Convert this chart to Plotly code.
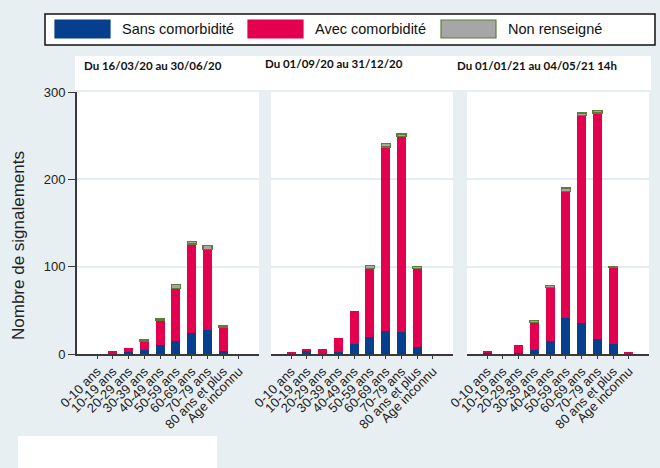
import plotly.graph_objects as go

# ---------------- data ----------------
categories = ["0-10 ans", "10-19 ans", "20-29 ans", "30-39 ans", "40-49 ans",
              "50-59 ans", "60-69 ans", "70-79 ans", "80 ans et plus", "Age inconnu"]
periods = ["Du 16/03/20 au 30/06/20", "Du 01/09/20 au 31/12/20", "Du 01/01/21 au 04/05/21 14h"]
series_names = ["Sans comorbidité", "Avec comorbidité", "Non renseigné"]

sans_p1 = [0, 1, 2, 5, 10, 15, 24, 28, 4, 0]
avec_p1 = [0, 2, 5, 10, 29, 60, 102, 92, 27, 0]
nr_p1 = [None, None, None, 1, 2, 5, 3, 4, 1.5, None]

sans_p2 = [0, 4, 0, 2, 12, 20, 26, 25, 8, 0]
avec_p2 = [2, 1, 6, 16, 37, 78, 211, 224, 90, 0]
nr_p2 = [None, None, None, None, None, 3.5, 4, 3, 2, None]

sans_p3 = [2, 0, 1, 5, 15, 41, 36, 17, 12, 0]
avec_p3 = [1, 0, 9, 31, 61, 145, 237, 259, 87, 2]
nr_p3 = [None, None, None, 2, 2, 4, 3, 3, 1.5, None]

y_ticks = [0, 100, 200, 300]

# ---------------- styling ----------------
W, H = 660, 468
BG = "#e8eff2"
BLUE = "#063f8e"
RED = "#e2004f"
GRAY = "#a6a6a6"
GREEN = "#5e7d3a"
FONT = "Liberation Sans"


def px(x):
    return x / W


def py(y):
    return 1 - y / H


panel_px = [(77, 259), (271, 453), (467, 649)]
title_px = [(82, 66), (263, 64), (455, 66)]
y_dom = [py(354), py(92)]

fig = go.Figure()

panels = [(sans_p1, avec_p1, nr_p1), (sans_p2, avec_p2, nr_p2), (sans_p3, avec_p3, nr_p3)]
colors = [BLUE, RED, GRAY]
lines = [BLUE, RED, GREEN]
lwidths = [0, 0, 1.2]

for i, vals in enumerate(panels):
    xa = "x" if i == 0 else f"x{i+1}"
    ya = "y" if i == 0 else f"y{i+1}"
    for s, v in enumerate(vals):
        fig.add_trace(go.Bar(
            x=categories, y=v, name=series_names[s], xaxis=xa, yaxis=ya,
            marker=dict(color=colors[s], line=dict(color=lines[s], width=lwidths[s])),
            width=0.57, showlegend=False, hoverinfo="x+y+name"))

fig.update_layout(barmode="stack")

for i, (a, b) in enumerate(panel_px):
    xkey = "xaxis" if i == 0 else f"xaxis{i+1}"
    ykey = "yaxis" if i == 0 else f"yaxis{i+1}"
    anchor_y = "y" if i == 0 else f"y{i+1}"
    anchor_x = "x" if i == 0 else f"x{i+1}"
    fig.layout[xkey] = dict(
        domain=[px(a), px(b)], anchor=anchor_y, type="category",
        range=[-1.27, 10.27], tickangle=-45,
        tickmode="array", tickvals=categories, ticktext=categories,
        tickfont=dict(family=FONT, size=13, color="#222"),
        showline=True, linecolor="#3a3a3a", linewidth=1.6,
        ticks="outside", ticklen=3, tickcolor="#3a3a3a",
        showgrid=False, zeroline=False, automargin=False, fixedrange=True)
    fig.layout[ykey] = dict(
        domain=y_dom, anchor=anchor_x, range=[0, 300],
        tickvals=y_ticks, showgrid=True, gridcolor="#e4edf0", gridwidth=1.5,
        zeroline=False, automargin=False, fixedrange=True,
        showline=(i == 0), linecolor="#3a3a3a", linewidth=1.8,
        ticks="outside" if i == 0 else "", ticklen=7, tickcolor="#3a3a3a",
        showticklabels=(i == 0),
        tickfont=dict(family=FONT, size=13, color="#222"))

shapes = []
# white strip behind panel titles
shapes.append(dict(type="rect", xref="paper", yref="paper", layer="below",
                   x0=px(75), x1=px(651), y0=py(90), y1=py(56),
                   fillcolor="white", line=dict(width=0)))
# legend box
shapes.append(dict(type="rect", xref="paper", yref="paper",
                   x0=px(45), x1=px(655), y0=py(45), y1=py(14),
                   fillcolor="white", line=dict(color="#111", width=1.5)))
leg_sw = [(55, 110), (248, 303), (441, 496)]
leg_tx = [120, 313, 506]
for s, (a, b) in enumerate(leg_sw):
    shapes.append(dict(type="rect", xref="paper", yref="paper",
                       x0=px(a), x1=px(b), y0=py(38), y1=py(20),
                       fillcolor=colors[s],
                       line=dict(color=GREEN if s == 2 else colors[s], width=1.2)))
# stray white box at bottom left
shapes.append(dict(type="rect", xref="paper", yref="paper",
                   x0=px(18), x1=px(217), y0=0, y1=py(436),
                   fillcolor="white", line=dict(width=0)))

annotations = []
for s, x0 in enumerate(leg_tx):
    annotations.append(dict(text=series_names[s], xref="paper", yref="paper",
                            x=px(x0), y=py(29), xanchor="left", yanchor="middle",
                            showarrow=False,
                            font=dict(family=FONT, size=14.5, color="#111")))
for i, (tx, ty) in enumerate(title_px):
    annotations.append(dict(text="<b>" + periods[i] + "</b>", xref="paper", yref="paper",
                            x=px(tx), y=py(ty), xanchor="left", yanchor="middle",
                            showarrow=False,
                            font=dict(family="Lato", size=11.5, color="#111")))
annotations.append(dict(text="Nombre de signalements", xref="paper", yref="paper",
                        x=px(18), y=py(246), xanchor="center", yanchor="middle",
                        textangle=-90, showarrow=False,
                        font=dict(family=FONT, size=17, color="#222")))

fig.update_layout(
    width=W, height=H, autosize=False,
    margin=dict(l=0, r=0, t=0, b=0),
    paper_bgcolor=BG, plot_bgcolor="white",
    shapes=shapes, annotations=annotations,
)

fig.write_html("out.html", config={"displayModeBar": False},
               post_script="document.body.style.margin='0';document.body.style.padding='0';")
